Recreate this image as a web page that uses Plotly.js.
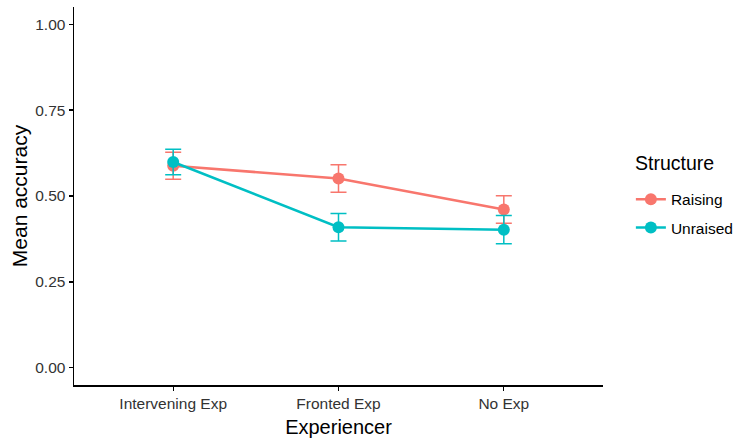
<!DOCTYPE html>
<html><head><script src="https://cdn.plot.ly/plotly-3.0.1.min.js"></script>
<style>body{margin:0}</style></head>
<body><div id="chart" style="width:736px;height:441px"></div>
<script>
const categories = ["Intervening Exp", "Fronted Exp", "No Exp"];
const raisingMean = [0.588, 0.551, 0.461];
const raisingErr = [0.039, 0.040, 0.040];
const unraisedMean = [0.599, 0.409, 0.402];
const unraisedErr = [0.037, 0.040, 0.041];
const seriesNames = ["Raising", "Unraised"];
const legendTitle = "Structure";
const colors = ["#F8766D", "#00BFC4"];
const yTicks = [0, 0.25, 0.5, 0.75, 1.0];
const yTickLabels = ["0.00", "0.25", "0.50", "0.75", "1.00"];

function trace(name, y, err, color) {
  return {
    type: "scatter", mode: "lines+markers", name: name, legendgroup: name,
    x: categories, y: y,
    line: {color: color, width: 2.5},
    marker: {color: color, size: 12},
    error_y: {type: "data", array: err, visible: true, color: color, thickness: 1.5, width: 8}
  };
}
const data = [
  trace(seriesNames[0], raisingMean, raisingErr, colors[0]),
  trace(seriesNames[1], unraisedMean, unraisedErr, colors[1])
];
const layout = {
  width: 736, height: 441,
  margin: {l: 74, r: 133, t: 7, b: 56, autoexpand: false},
  paper_bgcolor: "white", plot_bgcolor: "white",
  font: {family: "Liberation Sans, Arial, sans-serif"},
  xaxis: {
    type: "category", range: [-0.6, 2.6],
    showline: true, linecolor: "black", linewidth: 1.5,
    ticks: "outside", ticklen: 4, tickcolor: "black", tickwidth: 1.2,
    showgrid: false, zeroline: false,
    tickfont: {size: 15.5, color: "#333333"},
    title: {text: "Experiencer", font: {size: 20, color: "black"}, standoff: 9}
  },
  yaxis: {
    range: [-0.05, 1.05],
    tickvals: yTicks, ticktext: yTickLabels,
    showline: true, linecolor: "black", linewidth: 1.5,
    ticks: "outside", ticklen: 4, tickcolor: "black", tickwidth: 1.2,
    showgrid: false, zeroline: false,
    tickfont: {size: 15.5, color: "#333333"},
    title: {text: "Mean accuracy", font: {size: 21, color: "black"}, standoff: 2}
  },
  legend: {
    x: 1.0527, xanchor: "left", y: 0.535, yanchor: "top",
    traceorder: "grouped",
    font: {size: 15.5, color: "black"},
    itemwidth: 30, tracegroupgap: 5
  },
  annotations: [{
    text: legendTitle, xref: "paper", yref: "paper", x: 1.0567, y: 0.587,
    xanchor: "left", yanchor: "middle", showarrow: false,
    font: {size: 19.5, color: "black"}
  }],
  showlegend: true
};
Plotly.newPlot("chart", data, layout, {displayModeBar: false, staticPlot: true});
</script></body></html>
